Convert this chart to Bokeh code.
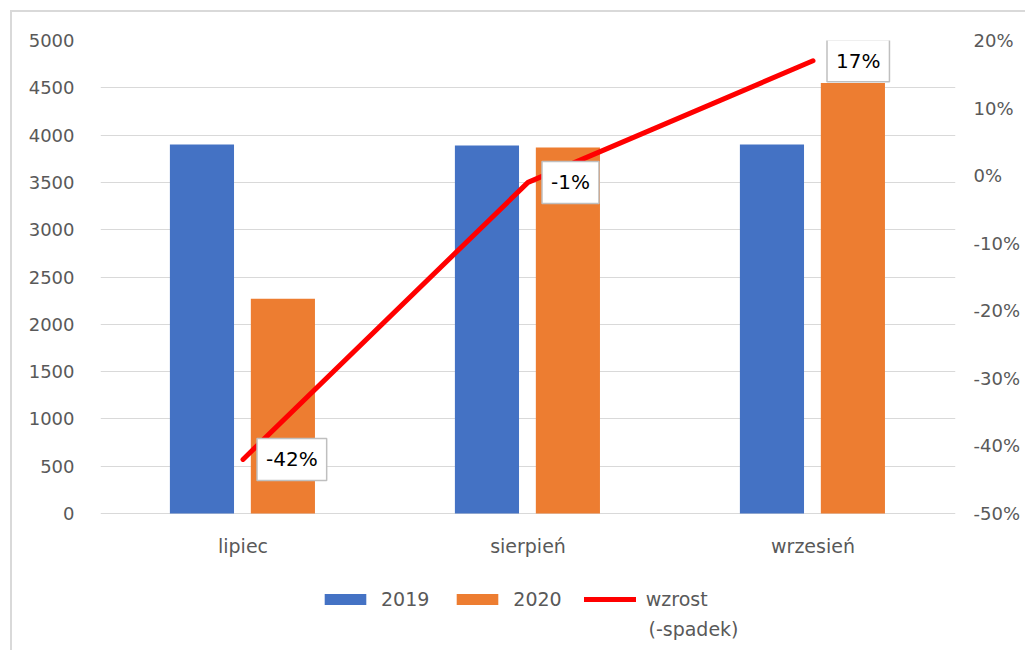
from bokeh.plotting import figure
from bokeh.models import (Range1d, LinearAxis, FixedTicker, NumeralTickFormatter,
                          Legend, LegendItem, Label, ColumnDataSource)
from bokeh.core.properties import value
from bokeh.transform import dodge
from bokeh.embed import file_html
from bokeh.resources import INLINE

months = ["lipiec", "sierpień", "wrzesień"]
v2019 = [3900, 3890, 3900]
v2020 = [2270, 3870, 4550]
growth = [-0.42, -0.01, 0.17]
left_ticks = [0, 500, 1000, 1500, 2000, 2500, 3000, 3500, 4000, 4500, 5000]
right_ticks = [-0.5, -0.4, -0.3, -0.2, -0.1, 0.0, 0.1, 0.2]
series_names = ["2019", "2020", "wzrost"]
series_note = "(-spadek)"

FONT = "DejaVu Sans"
GRAY = "#595959"

# layout in pixels: value axis part of the frame and extra room below it
FRAME_W = 855
PLOT_H = 473      # 0..5000
BELOW_H = 137     # room for category labels and legend inside the frame
L_MIN, L_MAX = 0, 5000
R_MIN, R_MAX = -0.5, 0.2
l_ext = L_MIN - BELOW_H * (L_MAX - L_MIN) / PLOT_H
r_ext = R_MIN - BELOW_H * (R_MAX - R_MIN) / PLOT_H
CAT_W = FRAME_W / len(months)

src = ColumnDataSource(dict(month=months, v2019=v2019, v2020=v2020, growth=growth,
                            zero=[0] * len(months)))

p = figure(x_range=months, y_range=Range1d(l_ext, L_MAX),
           frame_width=FRAME_W, frame_height=PLOT_H + BELOW_H,
           min_border_left=88, min_border_right=70, min_border_top=28, min_border_bottom=0,
           output_backend="svg", toolbar_location=None)
p.styles = {"margin-left": "10px", "margin-top": "10px",
            "border-left": "2px solid #d9d9d9", "border-top": "2px solid #d9d9d9"}
p.outline_line_color = None
p.extra_y_ranges = {"pct": Range1d(r_ext, R_MAX)}

b1 = p.vbar(x=dodge("month", -0.144, range=p.x_range), top="v2019", width=0.225,
            source=src, fill_color="#4472C4", line_color=None)
b2 = p.vbar(x=dodge("month", 0.14, range=p.x_range), top="v2020", width=0.225,
            source=src, fill_color="#ED7D31", line_color=None)
ln = p.line(x="month", y="growth", source=src, y_range_name="pct",
            line_color="#FF0000", line_width=5, line_cap="round")

# category labels under the zero line
p.text(x="month", y="zero", text="month", source=src, y_offset=32,
       text_align="center", text_baseline="middle",
       text_font=value(FONT), text_font_size="19px", text_color=GRAY)

# axes
p.yaxis.ticker = FixedTicker(ticks=left_ticks)
p.yaxis.axis_line_color = None
p.yaxis.major_tick_line_color = None
p.yaxis.minor_tick_line_color = None
p.yaxis.major_label_standoff = 20
p.yaxis.major_label_text_font = FONT
p.yaxis.major_label_text_font_size = "18px"
p.yaxis.major_label_text_color = GRAY

ra = LinearAxis(y_range_name="pct", ticker=FixedTicker(ticks=right_ticks),
                formatter=NumeralTickFormatter(format="0%"))
ra.axis_line_color = None
ra.major_tick_line_color = None
ra.minor_tick_line_color = None
ra.major_label_standoff = 12
ra.major_label_text_font = FONT
ra.major_label_text_font_size = "18px"
ra.major_label_text_color = GRAY
p.add_layout(ra, "right")

p.xaxis.visible = False
p.xgrid.grid_line_color = None
p.ygrid.grid_line_color = "#d9d9d9"
p.ygrid.grid_line_width = 1

# callouts (categorical centres are at index + 0.5)
for i, g in enumerate(growth):
    p.add_layout(Label(x=i + 0.5, y=g, y_range_name="pct", text=f"{round(g * 100)}%",
                       x_offset=14, text_align="left", text_baseline="middle",
                       text_font=FONT, text_font_size="20px", text_color="black",
                       background_fill_color="white", border_line_color="#bfbfbf",
                       border_line_width=1.5, padding=9))

legend = Legend(items=[LegendItem(label=series_names[0], renderers=[b1]),
                       LegendItem(label=series_names[1], renderers=[b2]),
                       LegendItem(label=series_names[2], renderers=[ln])],
                location=(219, 40), orientation="horizontal",
                glyph_width=52, glyph_height=14, label_standoff=10, spacing=22,
                label_text_font=FONT, label_text_font_size="19px", label_text_color=GRAY,
                border_line_color=None, background_fill_alpha=0, padding=0, margin=0)
p.add_layout(legend, "center")

# second line of the "wzrost" legend label
p.add_layout(Label(x=(648 - 100) / CAT_W, y=L_MIN - (628 - 513) * (L_MAX - L_MIN) / PLOT_H,
                   text=series_note, text_align="left", text_baseline="middle",
                   text_font=FONT, text_font_size="19px", text_color=GRAY))

open("out.html", "w").write(file_html(p, INLINE))
